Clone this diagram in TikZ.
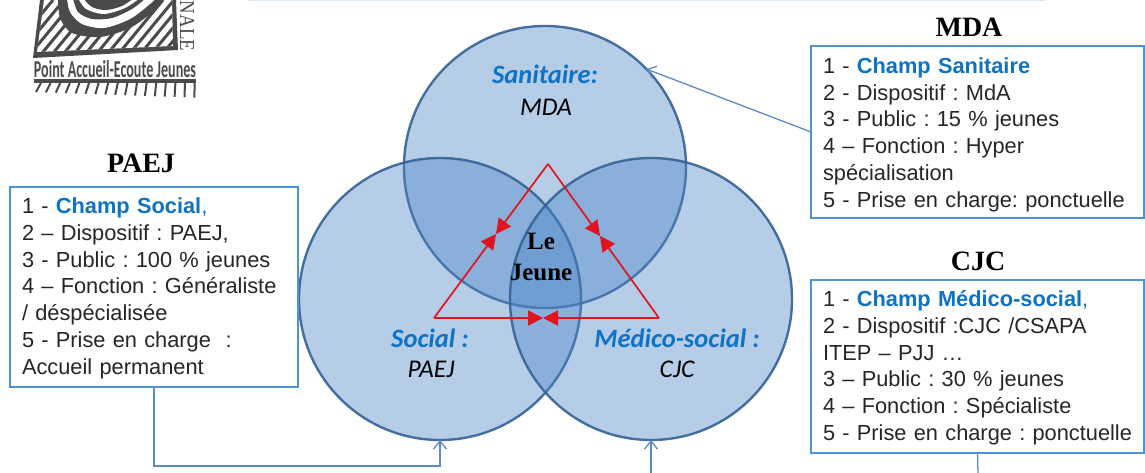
\documentclass[tikz,border=0pt]{standalone}
\usepackage{fontspec}
\setmainfont{Liberation Sans}
\newfontfamily\serifface{Liberation Serif}
\newfontfamily\calfont{Carlito}
\usetikzlibrary{arrows.meta}
\definecolor{boxblue}{HTML}{4D94D2}
\definecolor{linkblue}{HTML}{5F8AC6}
\definecolor{champ}{HTML}{0F73C4}
\definecolor{ringblue}{HTML}{386596}
\definecolor{fillblue}{HTML}{4A82C6}
\definecolor{redtri}{HTML}{E0141E}
\definecolor{txt}{HTML}{262626}
\definecolor{logogray}{HTML}{4A4A4A}
\definecolor{topbar}{HTML}{DCE7F6}
\newcommand{\chmp}[1]{\textcolor{champ}{\bfseries #1}}
\newcommand{\dnA}{\rule{0pt}{21pt}}
\newcommand{\dnB}{\rule{0pt}{18.5pt}}
\frenchspacing
\tikzset{
  venn/.style={circle,minimum size=282pt,inner sep=0pt,outer sep=0pt,draw=ringblue,line width=2.4pt,fill=fillblue,fill opacity=.4,draw opacity=.92},
  infobox/.style={draw=boxblue,line width=1.5pt,fill=white,inner xsep=12pt,inner ysep=0pt,align=left,text=txt,font=\fontsize{21.8}{26.8}\selectfont,outer sep=0pt},
  boxtitle/.style={font=\serifface\bfseries\fontsize{28}{32}\selectfont,text=black,inner sep=0pt},
  fieldname/.style={font=\calfont\bfseries\itshape\fontsize{26.5}{30}\selectfont,text=champ,inner sep=0pt},
  fieldnote/.style={font=\calfont\itshape\fontsize{25.5}{28}\selectfont,text=black,inner sep=0pt},
  link/.style={draw=linkblue,line width=1.3pt},
  opentip/.style={-{Straight Barb[length=8pt,width=13pt,line width=1.3pt]}},
  triline/.style={draw=redtri,line width=1.7pt},
  tritip/.style={-{Triangle[length=15pt,width=15pt,fill=redtri]}},
  logostroke/.style={draw=logogray,line width=3pt},
}
\begin{document}
\begin{tikzpicture}[x=1pt,y=-1pt]
\useasboundingbox (0,0) rectangle (1145,473);
\clip (0,0) rectangle (1145,473);
\fill[white] (0,0) rectangle (1145,473);
% top rule
\fill[topbar] (248,0) rectangle (1045,1.5);
% logo
\fill[logogray] (40,0) -- (33,58) -- (178,50) -- (176,0) -- cycle;
\begin{scope}
  \clip (44,0) -- (37,52) -- (173,46) -- (172,0) -- cycle;
  \fill[white] (30,0) rectangle (180,60);
  \foreach \hx in {-6,5,...,170} { \draw[logostroke] (\hx,58) -- (\hx+48,0); }
\end{scope}
\fill[logogray] plot[smooth] coordinates {(58,-2) (60,18) (72,33) (100,37) (130,28) (155,10) (165,-2)};
\fill[white] plot[smooth] coordinates {(67,-2) (70,12) (82,24) (104,28) (130,19) (150,4) (156,-2)};
\fill[logogray] plot[smooth] coordinates {(73,-2) (78,12) (92,19) (112,18) (132,9) (146,-2)};
\fill[white] plot[smooth] coordinates {(78,-2) (86,9) (104,14) (125,8) (140,-2)};
\fill[logogray] plot[smooth] coordinates {(83,-2) (92,7) (106,10) (122,6) (134,-2)};
\node[inner sep=0pt,rotate=-90,text=logogray] (nale) at (187,26) {\resizebox{50pt}{14pt}{\serifface NALE}};
\node[inner sep=0pt,text=logogray] (logotext) at (115,69.5) {\resizebox{162pt}{17pt}{\calfont\bfseries Point Accueil-Ecoute Jeunes}};
\fill[logogray] (34,79.5) rectangle (196,83.5);
\foreach \i in {0,...,16} {
  \draw[draw=logogray,line width=2pt] ({41+9.6*\i},83) -- ({36+9.9*\i},{92+.35*\i});
}
% circles
\node[venn] (san) at (545,167) {};
\node[venn] (soc) at (440,299) {};
\node[venn] (med) at (651,299) {};
% triangle
\coordinate (apex) at (548,164);
\coordinate (tl) at (434,318);
\coordinate (tr) at (659,318);
\coordinate (ml) at (496,234);
\coordinate (mr) at (600,236);
\coordinate (mb) at (543,318);
\draw[triline,tritip] (apex) -- (ml);
\draw[triline,tritip] (tl) -- (ml);
\draw[triline,tritip] (apex) -- (mr);
\draw[triline,tritip] (tr) -- (mr);
\draw[triline,tritip] (tl) -- (mb);
\draw[triline,tritip] (tr) -- (mb);
% circle labels
\node[fieldname] (l1) at (545,74) {Sanitaire:};
\node[fieldnote] (l2) at (546,107) {MDA};
\node[fieldname] (l3) at (430,338) {Social :};
\node[fieldnote] (l4) at (431,369) {PAEJ};
\node[fieldname] (l5) at (677,338) {Médico-social :};
\node[fieldnote] (l6) at (677,369) {CJC};
\node[inner sep=0pt,align=center,font=\serifface\bfseries\fontsize{25}{31}\selectfont,text=black] (jeune) at (541,257) {Le\\Jeune};
% boxes
\node[infobox,minimum width=288pt,minimum height=200pt,text width=264pt] (paej) at (154,287) {\dnB 1 - \chmp{Champ Social}\textcolor{champ}{,}\\2 – Dispositif : PAEJ,\\3 - Public : 100 \% jeunes\\4 – Fonction : Généraliste\\/ déspécialisée\\5 - Prise en charge~ :\\Accueil permanent};
\node[infobox,minimum width=333pt,minimum height=172pt,text width=309pt] (mda) at (977.5,132) {\dnA 1 - \chmp{Champ Sanitaire}\\2 - Dispositif : MdA\\3 - Public : 15 \% jeunes\\4 – Fonction : Hyper\\spécialisation\\5 - Prise en charge: ponctuelle};
\node[infobox,minimum width=333pt,minimum height=173pt,text width=309pt] (cjc) at (977.5,366.5) {\dnB 1 - \chmp{Champ Médico-social}\textcolor{champ}{,}\\2 - Dispositif :CJC /CSAPA\\ITEP – PJJ …\\3 – Public : 30 \% jeunes\\4 – Fonction : Spécialiste\\5 - Prise en charge : ponctuelle};
% titles
\node[boxtitle] (t1) at (141,163) {PAEJ};
\node[boxtitle] (t2) at (969,27) {MDA};
\node[boxtitle] (t3) at (978,261) {CJC};
% connectors
\coordinate (medin) at (651,473);
\coordinate (cjcout) at (978,473);
\draw[link,opentip] (paej.south) |- (300,466) -| (soc.south);
\draw[link,opentip] (medin) -- (med.south);
\draw[link] (cjc.south) -- (cjcout);
\draw[link,opentip] (mda.west) -- (san.44);
\end{tikzpicture}
\end{document}
